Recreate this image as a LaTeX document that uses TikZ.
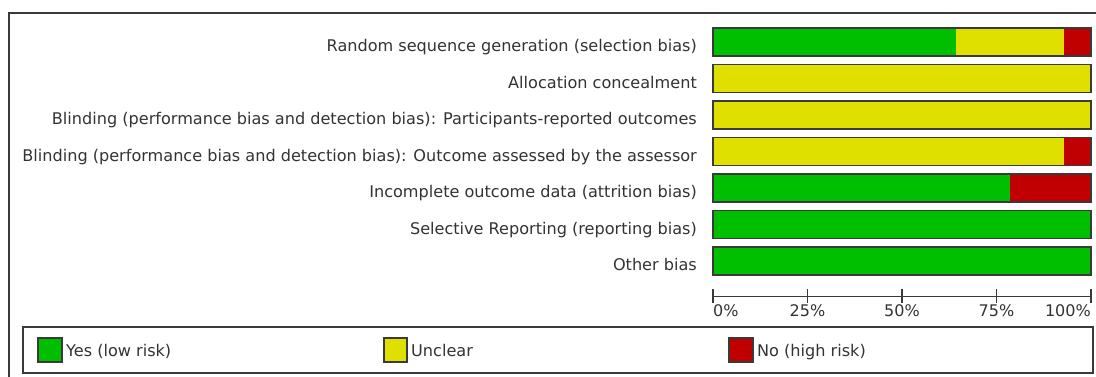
\documentclass[tikz,border=0pt]{standalone}
\usepackage{fontspec}
\setmainfont{DejaVu Sans}
\definecolor{yesgreen}{HTML}{00BF00}
\definecolor{unclyellow}{HTML}{E0E000}
\definecolor{nored}{HTML}{C00000}
\definecolor{framegray}{HTML}{3A3A3A}
\definecolor{txtgray}{HTML}{333333}
\tikzset{
  lab/.style={anchor=base east, inner sep=0pt, text=txtgray, font=\fontsize{16.1}{18}\selectfont},
  leglab/.style={anchor=base west, inner sep=0pt, text=txtgray, font=\fontsize{16.1}{18}\selectfont},
  ticklab/.style={inner sep=0pt, text=txtgray, font=\fontsize{16}{18}\selectfont},
  barframe/.style={draw=framegray, line width=1.4pt},
  legbox/.style={draw=framegray, line width=1.4pt},
  legsq/.style={draw=framegray, line width=1.2pt},
}
\begin{document}
\begin{tikzpicture}[x=1pt,y=-1pt]
\useasboundingbox (0,0) rectangle (1096,376);
\fill[white] (0,0) rectangle (1096,376);
% outer frame
\draw[framegray, line width=1.5pt] (9,377) -- (9,13) -- (1097,13);
% labels
\node[lab] (l1) at (697,51.5) {Random sequence generation (selection bias)};
\node[lab] (l2) at (697,88) {Allocation concealment};
\node[lab] (l3) at (697,124.5) {Blinding (performance bias and detection bias): Participants-reported outcomes};
\node[lab] (l4) at (697,161) {Blinding (performance bias and detection bias): Outcome assessed by the assessor};
\node[lab] (l5) at (697,197.5) {Incomplete outcome data (attrition bias)};
\node[lab] (l6) at (697,234) {Selective Reporting (reporting bias)};
\node[lab] (l7) at (697,270.5) {Other bias};
% bar 1
\fill[yesgreen] (713,28) rectangle (956,56);
\fill[unclyellow] (956,28) rectangle (1064,56);
\fill[nored] (1064,28) rectangle (1091,56);
\draw[barframe] (713,28) rectangle (1091,56);
% bar 2
\fill[unclyellow] (713,64.5) rectangle (1091,92.5);
\draw[barframe] (713,64.5) rectangle (1091,92.5);
% bar 3
\fill[unclyellow] (713,101) rectangle (1091,129);
\draw[barframe] (713,101) rectangle (1091,129);
% bar 4
\fill[unclyellow] (713,137.5) rectangle (1064,165.5);
\fill[nored] (1064,137.5) rectangle (1091,165.5);
\draw[barframe] (713,137.5) rectangle (1091,165.5);
% bar 5
\fill[yesgreen] (713,174) rectangle (1010,202);
\fill[nored] (1010,174) rectangle (1091,202);
\draw[barframe] (713,174) rectangle (1091,202);
% bar 6
\fill[yesgreen] (713,210.5) rectangle (1091,238.5);
\draw[barframe] (713,210.5) rectangle (1091,238.5);
% bar 7
\fill[yesgreen] (713,247) rectangle (1091,275);
\draw[barframe] (713,247) rectangle (1091,275);
% axis
\draw[framegray, line width=1.2pt] (713,296.5) -- (1091,296.5);
\foreach \xx in {713,807.5,902,996.5,1091}
  \draw[framegray, line width=1.2pt] (\xx,289) -- (\xx,303);
\node[ticklab, anchor=base west] (t0) at (713,316.5) {0\%};
\node[ticklab, anchor=base] (t25) at (807.5,316.5) {25\%};
\node[ticklab, anchor=base] (t50) at (902,316.5) {50\%};
\node[ticklab, anchor=base] (t75) at (996.5,316.5) {75\%};
\node[ticklab, anchor=base east] (t100) at (1091,316.5) {100\%};
% legend
\draw[legbox] (23,327) rectangle (1093,373);
\draw[legsq, fill=yesgreen] (38,338) rectangle (62,362);
\node[leglab] (ly) at (66,356) {Yes (low risk)};
\draw[legsq, fill=unclyellow] (384,338) rectangle (407,362);
\node[leglab] (lu) at (411,356) {Unclear};
\draw[legsq, fill=nored] (729,338) rectangle (753,362);
\node[leglab] (ln) at (757,356) {No (high risk)};
\end{tikzpicture}
\end{document}
